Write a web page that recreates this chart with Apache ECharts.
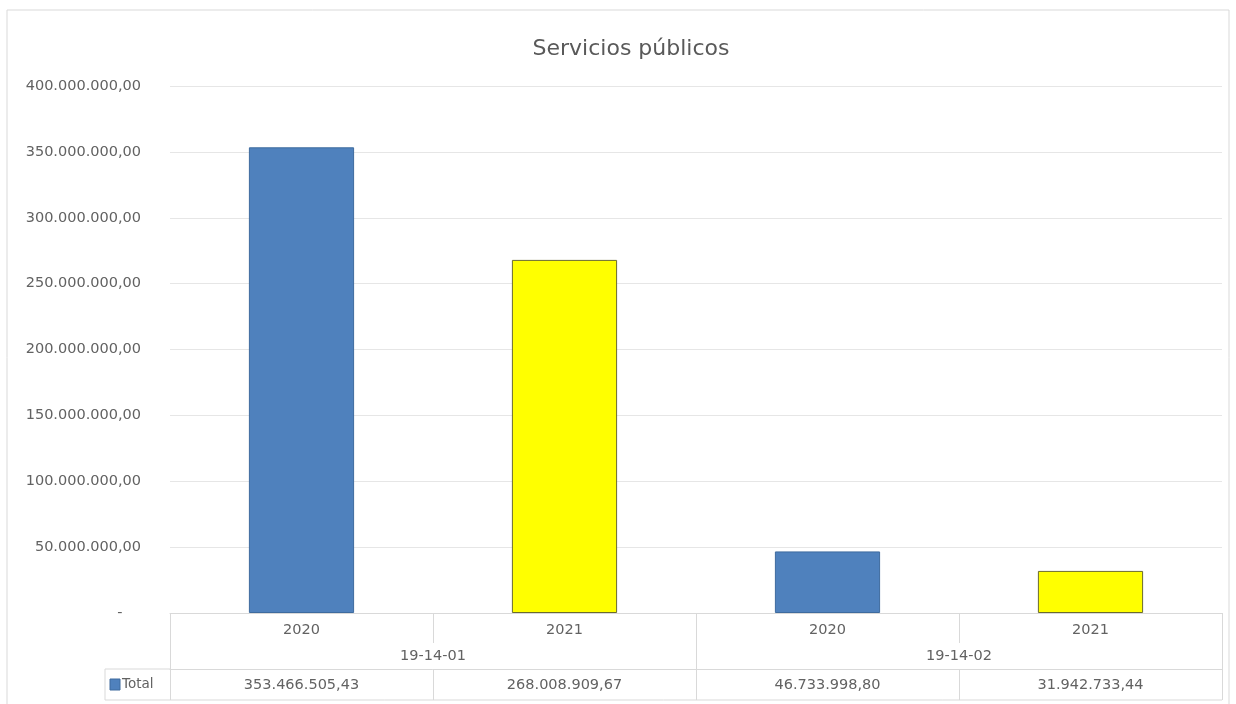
<!DOCTYPE html>
<html>
<head>
<meta charset="utf-8">
<script src="https://cdn.jsdelivr.net/npm/echarts@6/dist/echarts.min.js"></script>
<style>
html,body{margin:0;padding:0;background:#fff;}
#chart{width:1236px;height:704px;}
</style>
</head>
<body>
<div id="chart"></div>
<script>
// ---- data ----
const titleText = 'Servicios públicos';
const years = ['2020', '2021', '2020', '2021'];
const groups = ['19-14-01', '19-14-02'];
const seriesName = 'Total';
const totals = [353466505.43, 268008909.67, 46733998.80, 31942733.44];
const yTicks = [0, 50000000, 100000000, 150000000, 200000000, 250000000, 300000000, 350000000, 400000000];

// ---- styling ----
const yearFill = {'2020': '#4F81BD', '2021': '#FFFF00'};
const yearBorder = {'2020': '#3E6B9E', '2021': '#6B6B2E'};
const FONT = '"DejaVu Sans", sans-serif';
const FS = 14.5;
const TXT = '#626262';
const LINE = '#d9d9d9';

function fmt(v) {
  const neg = v < 0; v = Math.abs(v);
  const fixed = v.toFixed(2);
  let [ip, dp] = fixed.split('.');
  ip = ip.replace(/\B(?=(\d{3})+(?!\d))/g, '.');
  return (neg ? '-' : '') + ip + ',' + dp;
}

const chart = echarts.init(document.getElementById('chart'));
const gridL = 170, gridR = 14, gridT = 86, gridB = 91;

chart.setOption({
  backgroundColor: '#fff',
  textStyle: {fontFamily: FONT},
  title: {
    text: titleText, left: 626, top: 33, textAlign: 'center',
    textStyle: {fontFamily: FONT, fontSize: 22, fontWeight: 'normal', color: '#595959'}
  },
  grid: {left: gridL, right: gridR, top: gridT, bottom: gridB, containLabel: false},
  yAxis: {
    type: 'value', min: yTicks[0], max: yTicks[yTicks.length - 1], interval: yTicks[1] - yTicks[0],
    axisLine: {show: false}, axisTick: {show: false},
    splitLine: {lineStyle: {color: '#e6e6e6', width: 1}},
    axisLabel: {
      margin: 29, color: TXT, fontSize: FS, fontFamily: FONT,
      formatter: v => v === 0 ? '-    ' : fmt(v)
    }
  },
  xAxis: [
    {
      type: 'category', data: years, position: 'bottom',
      axisLine: {show: true, lineStyle: {color: LINE}},
      axisTick: {show: true, length: 30, lineStyle: {color: LINE}},
      axisLabel: {margin: 10, color: TXT, fontSize: FS, fontFamily: FONT}
    },
    {
      type: 'category', data: groups, position: 'bottom', offset: 0,
      axisLine: {show: false},
      axisTick: {show: true, length: 87, lineStyle: {color: LINE}},
      axisLabel: {margin: 36, color: TXT, fontSize: FS, fontFamily: FONT}
    },
    {
      type: 'category', data: totals.map(fmt), position: 'bottom', offset: 56,
      axisLine: {show: true, lineStyle: {color: LINE}},
      axisTick: {show: true, length: 31, lineStyle: {color: LINE}},
      axisLabel: {margin: 9, color: TXT, fontSize: FS, fontFamily: FONT}
    }
  ],
  series: [{
    name: seriesName, type: 'bar', xAxisIndex: 0, barWidth: '40%',
    data: totals.map((v, i) => ({
      value: v,
      itemStyle: {color: yearFill[years[i]], borderColor: yearBorder[years[i]], borderWidth: 1}
    }))
  }],
  graphic: [
    {type: 'rect', shape: {x: 7, y: 10, width: 1222, height: 700}, style: {fill: 'none', stroke: '#d9d9d9', lineWidth: 1}, silent: true},
    {type: 'line', shape: {x1: 105, y1: 669, x2: gridL, y2: 669}, style: {stroke: LINE, lineWidth: 1}},
    {type: 'line', shape: {x1: 105, y1: 700, x2: 1236 - gridR, y2: 700}, style: {stroke: LINE, lineWidth: 1}},
    {type: 'line', shape: {x1: 105, y1: 669, x2: 105, y2: 700}, style: {stroke: LINE, lineWidth: 1}},
    {type: 'rect', shape: {x: 110, y: 679, width: 10, height: 11}, style: {fill: yearFill['2020'], stroke: yearBorder['2020']}},
    {type: 'text', left: 122, top: 677, style: {text: seriesName, fill: TXT, fontSize: 13.5, fontFamily: FONT}}
  ]
});
</script>
</body>
</html>
